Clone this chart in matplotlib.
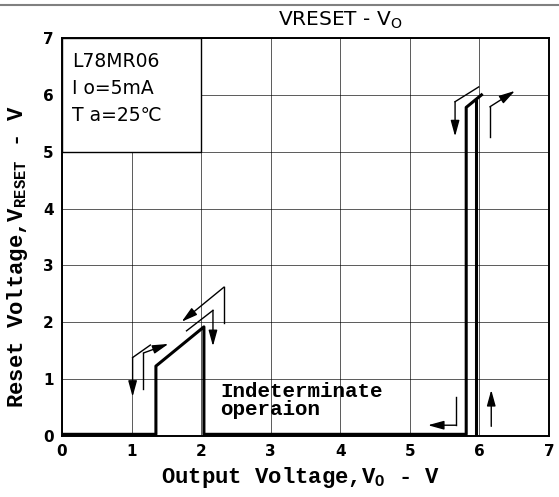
import matplotlib.pyplot as plt
from matplotlib.patches import Rectangle

# main characteristic curve (thick line)
curve_x = [0.0, 1.35, 1.35, 2.04, 2.04, 5.81, 5.81, 6.03]
curve_y = [0.03, 0.03, 1.23, 1.92, 0.03, 0.03, 5.78, 6.0]
curve2_x = [5.95, 5.95]
curve2_y = [0.0, 5.9]

# thin arrows: each is a polyline, arrowhead at the last point
arrows = [
    ([1.27, 1.015, 1.015], [1.60, 1.38, 0.69]),
    ([1.17, 1.17, 1.53], [0.82, 1.46, 1.62]),
    ([2.33, 2.33, 1.72], [1.98, 2.62, 2.01]),
    ([1.79, 2.17, 2.17], [1.85, 2.21, 1.58]),
    ([5.99, 5.65, 5.65], [6.14, 5.88, 5.27]),
    ([6.15, 6.15, 6.51], [5.26, 5.79, 6.07]),
    ([5.67, 5.67, 5.26], [0.69, 0.19, 0.19]),
    ([6.17, 6.17], [0.17, 0.81]),
]

x_ticks = [0, 1, 2, 3, 4, 5, 6, 7]
y_ticks = [0, 1, 2, 3, 4, 5, 6, 7]

mono = 'Liberation Mono'

fig = plt.figure(figsize=(5.59, 4.97), dpi=100)
ax = fig.add_axes([0.1109, 0.1227, 0.8712, 0.8008])

ax.set_xlim(0, 7)
ax.set_ylim(0, 7)
ax.set_xticks(x_ticks)
ax.set_yticks(y_ticks)
ax.tick_params(length=0, labelsize=11, pad=6)
for lab in ax.get_xticklabels() + ax.get_yticklabels():
    lab.set_fontweight('bold')
ax.grid(True, color='black', lw=0.6, alpha=0.75)
for s in ax.spines.values():
    s.set_linewidth(1.4)

# legend box in upper-left cell
ax.add_patch(Rectangle((0, 5), 2, 2, facecolor='white', edgecolor='black',
                       lw=1.0, zorder=2))
ax.text(0.14, 6.58, 'L78MR06', fontsize=13.5, zorder=3, va='center')
ax.text(0.14, 6.12, 'I o=5mA', fontsize=13.5, zorder=3, va='center')
ax.text(0.14, 5.64, 'T a=25℃', fontsize=13.5, zorder=3, va='center')

ax.plot(curve_x, curve_y, color='black', lw=2.2, zorder=4)
ax.plot(curve2_x, curve2_y, color='black', lw=2.2, zorder=4)

for xs, ys in arrows:
    ax.plot(xs[:-1], ys[:-1], color='black', lw=1.0, zorder=4)
    ax.annotate('', xy=(xs[-1], ys[-1]), xytext=(xs[-2], ys[-2]),
                arrowprops=dict(arrowstyle='-|>,head_length=0.8,head_width=0.22',
                                color='black', lw=1.0,
                                mutation_scale=12, shrinkA=0, shrinkB=0),
                zorder=4)

ax.text(2.28, 0.78, 'Indeterminate', family=mono, fontweight='bold',
        fontsize=15, va='center', zorder=4)
ax.text(2.28, 0.47, 'operaion', family=mono, fontweight='bold',
        fontsize=15, va='center', zorder=4)

ax.set_xlabel(r'Output Voltage,V$_\mathregular{O}$ - V', family=mono,
              fontweight='bold', fontsize=16)
ax.set_ylabel(r'Reset Voltage,V$_\mathregular{RESET}$ - V', family=mono,
              fontweight='bold', fontsize=16)
ax.xaxis.set_label_coords(0.489, -0.074)
ax.yaxis.set_label_coords(-0.066, 0.452)

fig.text(0.608, 0.96, r'VRESET - V$_\mathregular{O}$', fontsize=14.5,
         ha='center', va='center')
fig.add_artist(plt.Line2D([0, 1], [0.99, 0.99], color='gray', lw=1.5))

fig.savefig('out.png', dpi=100)
